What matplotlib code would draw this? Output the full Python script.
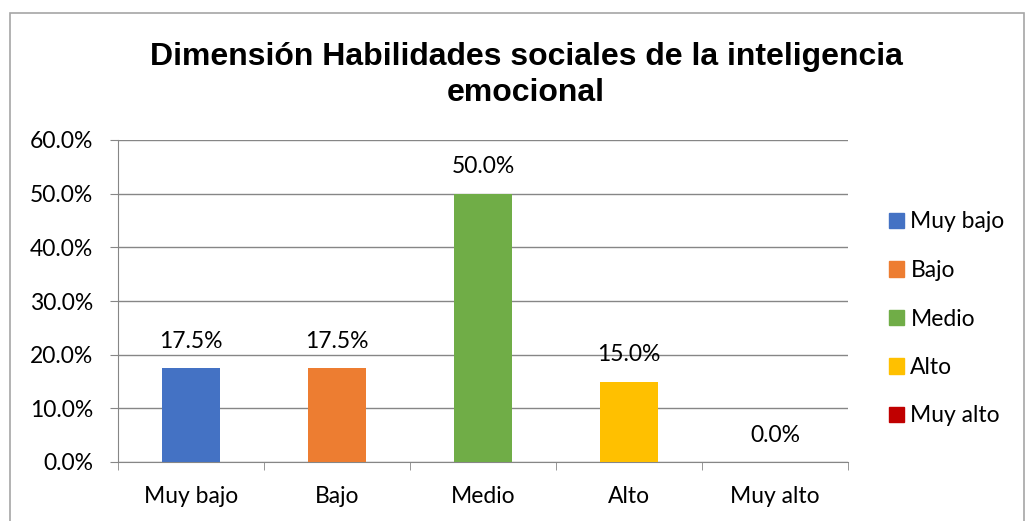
import matplotlib.pyplot as plt
import matplotlib.patches as mpatches
from matplotlib.ticker import FuncFormatter, FixedLocator

# data
categorias = ['Muy bajo', 'Bajo', 'Medio', 'Alto', 'Muy alto']
porcentajes = [17.5, 17.5, 50.0, 15.0, 0.0]
colores = ['#4472C4', '#ED7D31', '#70AD47', '#FFC000', '#C00000']
titulo = 'Dimensión Habilidades sociales de la inteligencia\nemocional'

plt.rcParams['font.family'] = ['Lato', 'DejaVu Sans']
fs = 16.5

fig = plt.figure(figsize=(10.26, 5.21), dpi=100)

# chart border
borde = mpatches.Rectangle((10/1026, -0.05), 1014/1026, 0.975 + 0.05, transform=fig.transFigure,
                           fill=False, edgecolor='#A6A6A6', lw=1.2)
fig.patches.append(borde)

ax = fig.add_axes([118/1026, 59/521, 730/1026, 322/521])
x = list(range(len(categorias)))
ax.bar(x, porcentajes, width=0.4, color=colores, zorder=3)

for xi, v in zip(x, porcentajes):
    ax.text(xi, v + 5.0, f'{v:.1f}%', ha='center', va='center', fontsize=fs)

ax.set_ylim(0, 60)
ax.set_xlim(-0.5, len(categorias) - 0.5)
ax.set_yticks(range(0, 61, 10))
ax.yaxis.set_major_formatter(FuncFormatter(lambda v, p: f'{v:.1f}%'))
ax.yaxis.grid(True, color='#868686', lw=1, zorder=0)

ax.set_xticks(x)
ax.set_xticklabels(categorias)
ax.xaxis.set_minor_locator(FixedLocator([i - 0.5 for i in range(len(categorias) + 1)]))
ax.tick_params(axis='x', which='major', length=0, pad=17, labelsize=fs)
ax.tick_params(axis='x', which='minor', length=6, color='#868686', direction='out')
ax.tick_params(axis='y', length=6, color='#868686', pad=12, labelsize=fs)

for s in ['top', 'right']:
    ax.spines[s].set_visible(False)
for s in ['left', 'bottom']:
    ax.spines[s].set_color('#868686')

fig.text(526/1026, 1 - 75/521, titulo, ha='center', va='center', fontsize=23,
         fontweight='bold', family='Liberation Sans', linespacing=1.3)

handles = [mpatches.Patch(color=c, label=l) for c, l in zip(colores, categorias)]
fig.legend(handles=handles, loc='center left', bbox_to_anchor=(868/1026, 1 - 319/521),
           frameon=False, fontsize=fs, handlelength=0.65, handleheight=0.65,
           handletextpad=0.3, labelspacing=1.2)

plt.savefig('out.png', dpi=100)
